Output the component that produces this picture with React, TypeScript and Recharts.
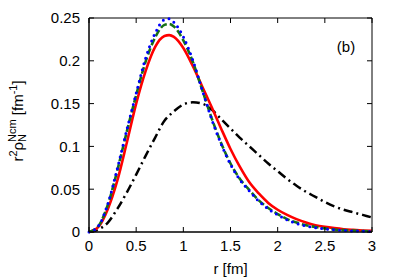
import { LineChart, Line, XAxis, YAxis, ReferenceArea } from 'recharts'

// r [fm]
const R = [0, 0.1, 0.2, 0.3, 0.4, 0.5, 0.6, 0.7, 0.8, 0.85, 0.9, 1.0, 1.1, 1.2, 1.3, 1.4, 1.5, 1.6, 1.7, 1.8, 1.9, 2.0, 2.1, 2.2, 2.3, 2.4, 2.5, 2.6, 2.7, 2.8, 2.9, 3.0]

const RED   = [0, 0.006, 0.027, 0.060, 0.104, 0.150, 0.188, 0.216, 0.229, 0.230, 0.228, 0.215, 0.194, 0.170, 0.146, 0.121, 0.097, 0.076, 0.058, 0.045, 0.034, 0.026, 0.020, 0.015, 0.011, 0.008, 0.006, 0.0045, 0.0033, 0.0025, 0.0018, 0.0013]
const GREEN = [0, 0.007, 0.032, 0.072, 0.117, 0.160, 0.199, 0.227, 0.242, 0.243, 0.240, 0.224, 0.199, 0.166, 0.133, 0.104, 0.080, 0.062, 0.049, 0.037, 0.028, 0.021, 0.015, 0.011, 0.008, 0.0058, 0.0042, 0.003, 0.0022, 0.0016, 0.0011, 0.0008]
const BLUE  = [0, 0.007, 0.033, 0.074, 0.119, 0.162, 0.203, 0.232, 0.248, 0.249, 0.245, 0.228, 0.201, 0.166, 0.132, 0.103, 0.079, 0.061, 0.048, 0.036, 0.027, 0.020, 0.014, 0.010, 0.007, 0.005, 0.0035, 0.0025, 0.0018, 0.0012, 0.0009, 0.0006]
const BLACK = [0, 0.003, 0.011, 0.027, 0.046, 0.067, 0.089, 0.110, 0.130, 0.136, 0.141, 0.149, 0.1515, 0.150, 0.143, 0.132, 0.121, 0.110, 0.100, 0.090, 0.080, 0.071, 0.062, 0.054, 0.047, 0.041, 0.035, 0.030, 0.026, 0.023, 0.020, 0.017]

const X_TICKS = [0, 0.5, 1, 1.5, 2, 2.5, 3]
const Y_TICKS = [0, 0.05, 0.1, 0.15, 0.2, 0.25]

const data = R.map((r, i) => ({ r, red: RED[i], green: GREEN[i], blue: BLUE[i], black: BLACK[i] }))

// plot frame in px
const PL = 89, PT = 18, PR = 372, PB = 232
const FONT = '"Liberation Sans", Arial, sans-serif'

function BottomTick({ payload }: any) {
  const x = payload.coordinate
  return (
    <g>
      <line x1={x} y1={PB} x2={x} y2={PB - 5} stroke="#000" />
      <line x1={x} y1={PT} x2={x} y2={PT + 5} stroke="#000" />
      <text x={x} y={240} dy="0.71em" textAnchor="middle" fontSize={15} fontFamily={FONT} fill="#000">{String(payload.value)}</text>
    </g>
  )
}

function LeftTick({ payload }: any) {
  const y = payload.coordinate
  return (
    <g>
      <line x1={PL} y1={y} x2={PL + 5} y2={y} stroke="#000" />
      <line x1={PR} y1={y} x2={PR - 5} y2={y} stroke="#000" />
      <text x={80} y={y} dy="0.355em" textAnchor="end" fontSize={15} fontFamily={FONT} fill="#000">{String(payload.value)}</text>
    </g>
  )
}

function XLabel() {
  return (
    <g fontFamily={FONT} fill="#000">
      <text x={(PL + PR) / 2} y={274} textAnchor="middle" fontSize={15}>r [fm]</text>
      <text x={346} y={52} textAnchor="middle" fontSize={15}>(b)</text>
    </g>
  )
}

function YLabel() {
  return (
    <text x={23} y={121} transform="rotate(-90 23 121)" textAnchor="middle" fontSize={15} fontFamily={FONT} fill="#000">
      r<tspan dy={-6} fontSize={11}>2</tspan>
      <tspan dy={6}>ρ</tspan>
      <tspan dy={3} fontSize={11}>N</tspan>
      <tspan dx={-8} dy={-10} fontSize={11}>Ncm</tspan>
      <tspan dy={7}> [fm</tspan>
      <tspan dy={-6} fontSize={11}>-1</tspan>
      <tspan dy={6}>]</tspan>
    </text>
  )
}

export default function App() {
  return (
    <div style={{ position: 'absolute', left: 0, top: 0, width: 399, height: 279, background: '#fff' }}>
      <LineChart width={399} height={279} data={data} margin={{ top: PT, right: 399 - PR, bottom: 0, left: 0 }}>
        <XAxis dataKey="r" type="number" domain={[0, 3]} ticks={X_TICKS} height={279 - PB}
          axisLine={{ stroke: '#000' }} tickLine={false} tickSize={0} tick={<BottomTick />} label={<XLabel />} interval={0} />
        <YAxis type="number" domain={[0, 0.25]} ticks={Y_TICKS} width={PL}
          axisLine={{ stroke: '#000' }} tickLine={false} tickSize={0} tick={<LeftTick />} label={<YLabel />} interval={0} />
        <ReferenceArea x1={0} x2={3} y1={0} y2={0.25} fill="none" stroke="#000" strokeWidth={1} fillOpacity={0} />
        <Line dataKey="black" type="monotone" stroke="#000" strokeWidth={2.5} strokeDasharray="9 4 2 4" dot={false} isAnimationActive={false} />
        <Line dataKey="red" type="monotone" stroke="#ff0000" strokeWidth={2.6} dot={false} isAnimationActive={false} />
        <Line dataKey="green" type="monotone" stroke="#167016" strokeWidth={2.6} strokeDasharray="7 3" dot={false} isAnimationActive={false} />
        <Line dataKey="blue" type="monotone" stroke="#0000ff" strokeWidth={3} strokeDasharray="0 6" strokeLinecap="round" dot={false} isAnimationActive={false} />
      </LineChart>
    </div>
  )
}
